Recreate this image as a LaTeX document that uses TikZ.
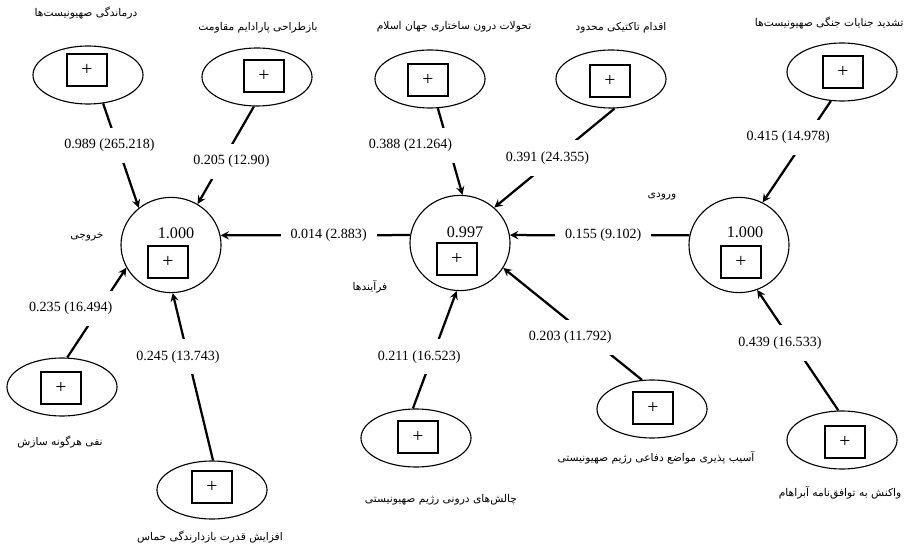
\documentclass[tikz,border=0pt]{standalone}
\usepackage{fontspec}
\setmainfont{Liberation Serif}
\newfontfamily\arabicfont[Script=Arabic]{DejaVu Sans}
\TeXXeTstate=1
\usetikzlibrary{shapes.geometric, arrows}
\tikzstyle{indicator} = [ellipse, draw=black, line width=0.8pt, minimum width=2.75cm, minimum height=1.45cm]
\tikzstyle{latent} = [ellipse, draw=black, line width=0.8pt, minimum width=2.5cm, minimum height=2.38cm]
\tikzstyle{plusbox} = [rectangle, draw=black, line width=1pt, minimum width=1cm, minimum height=0.8cm, font=\fontsize{14}{14}\selectfont]
\tikzstyle{value} = [font=\fontsize{11.5}{12}\selectfont]
\tikzstyle{coef} = [fill=white, inner xsep=7pt, inner ysep=8pt, font=\fontsize{10}{12}\selectfont]
\tikzstyle{title} = [inner sep=0pt, font=\fontsize{7.6}{10}\selectfont\arabicfont]
\tikzstyle{arrow} = [line width=1.6pt,->,>=stealth]

\begin{document}
\begin{tikzpicture}[x=0.025cm, y=-0.025cm]
\useasboundingbox [fill=white] (0,0) rectangle (906,550);

% latent variables
\node (out) [latent] at (171,245) {};
\node (proc) [latent] at (460,243) {};
\node (inp) [latent] at (739,245) {};
\node (outv) [value] at (176,233) {1.000};
\node (procv) [value] at (465,232) {0.997};
\node (inpv) [value] at (745,232) {1.000};
\node (outb) [plusbox] at (168,262) {+};
\node (procb) [plusbox] at (457,259) {+};
\node (inpb) [plusbox] at (741,262) {+};
\node (tout) [title] at (87,237) {\beginR خروجی\endR};
\node (tproc) [title] at (370,287) {\beginR فرآیندها\endR};
\node (tinp) [title] at (662,197) {\beginR ورودی\endR};

% indicators
\node (e1) [indicator] at (88,75) {};
\node (e2) [indicator] at (257,77) {};
\node (e3) [indicator] at (430,79) {};
\node (e4) [indicator] at (611,79) {};
\node (e5) [indicator] at (842,72) {};
\node (e6) [indicator] at (62,387) {};
\node (e7) [indicator] at (212,490) {};
\node (e8) [indicator] at (416,438) {};
\node (e9) [indicator] at (652,409) {};
\node (e10) [indicator] at (842,440) {};
\node (b1) [plusbox] at (87,70) {+};
\node (b2) [plusbox] at (264,76) {+};
\node (b3) [plusbox] at (428,80) {+};
\node (b4) [plusbox] at (610,81) {+};
\node (b5) [plusbox] at (843,72) {+};
\node (b6) [plusbox] at (61,388) {+};
\node (b7) [plusbox] at (212,487) {+};
\node (b8) [plusbox] at (418,437) {+};
\node (b9) [plusbox] at (653,408) {+};
\node (b10) [plusbox] at (845,442) {+};
\node (t1) [title] at (86,13) {\beginR درماندگی صهیونیست‌ها\endR};
\node (t2) [title] at (258,28) {\beginR بازطراحی پارادایم مقاومت\endR};
\node (t3) [title] at (454,27) {\beginR تحولات درون ساختاری جهان اسلام\endR};
\node (t4) [title] at (621,28) {\beginR اقدام تاکتیکی محدود\endR};
\node (t5) [title, anchor=east] at (904,23) {\beginR تشدید جنایات جنگی صهیونیست‌ها\endR};
\node (t6) [title] at (60,442) {\beginR نفی هرگونه سازش\endR};
\node (t7) [title] at (210,537) {\beginR افزایش قدرت بازدارندگی حماس\endR};
\node (t8) [title] at (441,500) {\beginR چالش‌های درونی رژیم صهیونیستی\endR};
\node (t9) [title] at (656,458) {\beginR آسیب پذیری مواضع دفاعی رژیم صهیونیستی\endR};
\node (t10) [title] at (840,493) {\beginR واکنش به توافق‌نامه آبراهام\endR};

\draw [arrow] (e1.298) -- node[coef, pos=0.40, xshift=-0.2cm] (c1) {0.989 (265.218)} (out.131);
\draw [arrow] (e2.264) -- node[coef, pos=0.56, xshift=0.225cm] (c2) {0.205 (12.90)} (out.57);
\draw [arrow] (proc.171) -- node[coef, pos=0.43] (c3) {0.014 (2.883)} (out.11);
\draw [arrow] (inp.169) -- node[coef, pos=0.48] (c4) {0.155 (9.102)} (proc.9);
\draw [arrow] (e3.285) -- node[coef, pos=0.43, xshift=-0.95cm] (c5) {0.388 (21.264)} (proc.87);
\draw [arrow] (e4.277) -- node[coef, pos=0.5, xshift=-0.175cm] (c6) {0.391 (24.355)} (proc.46);
\draw [arrow] (e5.249) -- node[coef, pos=0.36, xshift=-0.45cm] (c7) {0.415 (14.978)} (inp.61);
\draw [arrow] (e6.80) -- node[coef, pos=0.55, xshift=-0.725cm] (c8) {0.235 (16.494)} (out.207);
\draw [arrow] (e7.88) -- node[coef, pos=0.62, xshift=-0.25cm] (c9) {0.245 (13.743)} (out.272);
\draw [arrow] (e8.96) -- node[coef, pos=0.44, xshift=-0.325cm] (c10) {0.211 (16.523)} (proc.266);
\draw [arrow] (e9.109) -- node[coef, pos=0.38, xshift=-0.475cm] (c11) {0.203 (11.792)} (proc.330);
\draw [arrow] (e10.97) -- node[coef, pos=0.56, xshift=-0.325cm] (c12) {0.439 (16.533)} (inp.292);
\end{tikzpicture}
\end{document}
